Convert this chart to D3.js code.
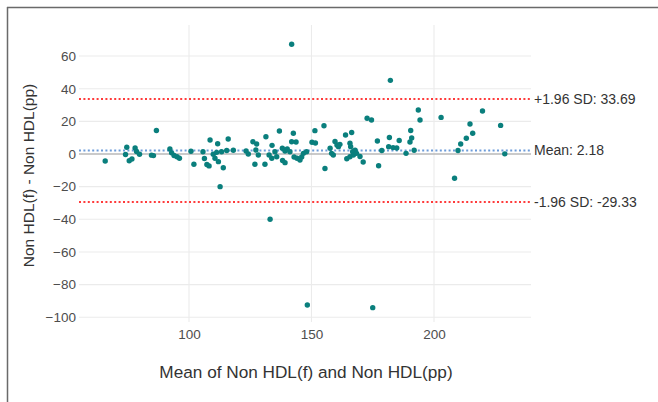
<!DOCTYPE html>
<html>
<head>
<meta charset="utf-8">
<script src="https://cdn.jsdelivr.net/npm/d3@7"></script>
<style>
  html, body { margin: 0; padding: 0; background: #fff; }
  svg { display: block; font-family: "Liberation Sans", Arial, sans-serif; }
</style>
</head>
<body>
<svg id="chart" width="658" height="402"></svg>
<script>
// ---- data ----
const meanValues = [
  65.8, 74.6, 74.1, 75.6, 76.7, 78.0, 78.6, 79.8, 86.7, 84.7,
  85.5, 92.2, 92.9, 93.9, 95.1, 96.1, 100.8, 102.0, 105.7, 106.3,
  107.3, 108.2, 108.6, 109.9, 110.6, 111.3, 111.7, 112.0, 112.7, 114.0,
  116.0, 113.3, 115.4, 118.1, 123.3, 124.2, 126.1, 127.6, 126.9, 127.3,
  128.3, 131.4, 131.0, 133.8, 133.9, 132.7, 135.1, 135.8, 136.9, 138.1,
  139.2, 138.2, 139.2, 140.1, 141.2, 142.6, 141.9, 143.7, 142.9, 144.1,
  145.3, 146.0, 141.9, 146.7, 148.0, 151.4, 155.1, 150.2, 151.6, 155.5,
  157.6, 158.2, 158.9, 159.6, 160.4, 161.0, 161.6, 163.9, 166.4, 165.7,
  166.0, 164.4, 165.7, 167.1, 166.8, 167.8, 168.4, 169.8, 171.1, 172.7,
  174.5, 176.9, 177.4, 178.7, 181.8, 181.5, 183.3, 184.8, 182.2, 185.8,
  188.6, 190.5, 190.9, 190.2, 191.9, 193.6, 194.3, 202.9, 208.4, 209.8,
  210.9, 213.2, 214.7, 215.8, 219.8, 227.2, 228.9, 133.1, 148.3, 175.0
];
const diffValues = [
  -4.3, 4.1, -0.3, -4.1, -3.1, 3.7, 1.5, -0.2, 14.4, -0.7,
  -1.0, 3.1, 0.7, -0.9, -1.7, -2.6, 1.7, -6.3, 1.4, -2.8,
  -6.4, -7.3, 8.6, -0.2, -2.6, 1.0, 6.3, -4.7, -20.0, -8.4,
  9.2, 1.4, 2.1, 2.3, 1.8, 0.0, 7.5, 6.1, -6.3, 2.4,
  -0.6, 10.6, -6.3, -2.6, 5.3, -0.6, 1.4, -1.7, 14.1, 3.5,
  1.8, -4.0, -5.3, 3.1, 1.4, 12.7, 7.5, 7.3, -1.8, -2.6,
  -3.7, -1.8, 67.2, 0.4, 1.4, 14.3, 17.3, 7.2, 6.7, -8.9,
  3.5, 0.4, -0.6, 7.7, 5.5, 4.5, 5.9, 11.6, 13.2, 6.6,
  4.5, -2.9, -1.7, -0.6, 1.4, 2.3, 0.4, -1.5, -4.9, 21.9,
  20.8, 8.0, -7.2, 2.1, 10.1, 4.5, 3.9, 3.7, 45.1, 8.3,
  0.4, 14.4, 9.8, 7.3, 2.3, 26.9, 20.8, 22.4, -14.9, 2.1,
  6.1, 9.6, 18.4, 12.7, 26.3, 17.5, 0.1, -40.0, -92.5, -94.1
];
const meanDiff = 2.18;
const upperLoA = 33.69;
const lowerLoA = -29.33;
const refLineLabels = ["+1.96 SD: 33.69", "Mean: 2.18", "-1.96 SD: -29.33"];
const xTicks = [100, 150, 200];
const yTicks = [-100, -80, -60, -40, -20, 0, 20, 40, 60];
const xTitle = "Mean of Non HDL(f) and Non HDL(pp)";
const yTitle = "Non HDL(f) - Non HDL(pp)";

// ---- drawing ----
const svg = d3.select("#chart");
const panel = { left: 79, right: 531, top: 25, bottom: 322 };

const x = d3.scaleLinear().domain([55.1, 239.6]).range([panel.left, panel.right]);
const y = d3.scaleLinear().domain([-102.9, 79]).range([panel.bottom, panel.top]);

// frame (screenshot border)
svg.append("line").attr("x1", 7).attr("x2", 658).attr("y1", 7.5).attr("y2", 7.5)
  .attr("stroke", "#6a6a6a").attr("stroke-width", 1.5);
svg.append("line").attr("x1", 7.5).attr("x2", 7.5).attr("y1", 7).attr("y2", 402)
  .attr("stroke", "#6a6a6a").attr("stroke-width", 1.5);

// gridlines
const grid = svg.append("g");
grid.selectAll(".hg").data(yTicks).join("line")
  .attr("x1", panel.left).attr("x2", panel.right)
  .attr("y1", d => y(d)).attr("y2", d => y(d))
  .attr("stroke", "#ebebeb").attr("stroke-width", 1.1);
grid.selectAll(".vg").data(xTicks).join("line")
  .attr("x1", d => x(d)).attr("x2", d => x(d))
  .attr("y1", panel.top).attr("y2", panel.bottom)
  .attr("stroke", "#ebebeb").attr("stroke-width", 1.1);

// axes (labels only, ggplot minimal style)
const yAxis = d3.axisLeft(y).tickValues(yTicks).tickSize(0).tickPadding(2)
  .tickFormat(d => d < 0 ? "\u2212" + Math.abs(d) : d);
svg.append("g").attr("transform", `translate(${panel.left - 1},0)`).call(yAxis)
  .call(g => g.select(".domain").remove())
  .call(g => g.selectAll("text").attr("fill", "#4d4d4d").attr("font-size", 13.5)
    .attr("font-family", "Liberation Sans, Arial, sans-serif"));

const xAxis = d3.axisBottom(x).tickValues(xTicks).tickSize(0).tickPadding(7);
svg.append("g").attr("transform", `translate(0,${panel.bottom})`).call(xAxis)
  .call(g => g.select(".domain").remove())
  .call(g => g.selectAll("text").attr("fill", "#4d4d4d").attr("font-size", 13.5)
    .attr("font-family", "Liberation Sans, Arial, sans-serif"));

// zero line
svg.append("line").attr("x1", panel.left).attr("x2", panel.right)
  .attr("y1", y(0)).attr("y2", y(0))
  .attr("stroke", "#a0a0a0").attr("stroke-width", 1.2);

// reference lines
const refs = [
  { v: upperLoA, color: "#ff3b3b", label: refLineLabels[0] },
  { v: meanDiff, color: "#6c9bd9", label: refLineLabels[1] },
  { v: lowerLoA, color: "#ff3b3b", label: refLineLabels[2] }
];
svg.selectAll(".ref").data(refs).join("line")
  .attr("x1", panel.left).attr("x2", panel.right)
  .attr("y1", d => y(d.v)).attr("y2", d => y(d.v))
  .attr("stroke", d => d.color).attr("stroke-width", 2)
  .attr("stroke-dasharray", "2,2.4");

// points
svg.append("g").selectAll("circle").data(meanValues.map((m, i) => [m, diffValues[i]]))
  .join("circle")
  .attr("cx", d => x(d[0])).attr("cy", d => y(d[1])).attr("r", 2.7)
  .attr("fill", "#0a7f7d");

// reference labels
svg.selectAll(".reflab").data(refs).join("text")
  .attr("x", panel.right + 3).attr("y", d => y(d.v))
  .attr("dy", "0.35em").attr("font-size", 14).attr("fill", "#333")
  .text(d => d.label);

// axis titles
svg.append("text").attr("x", (panel.left + panel.right) / 2 + 1).attr("y", 378)
  .attr("text-anchor", "middle").attr("font-size", 17.2).attr("fill", "#333")
  .text(xTitle);
svg.append("text")
  .attr("transform", `translate(34,${(panel.top + panel.bottom) / 2 + 2}) rotate(-90)`)
  .attr("text-anchor", "middle").attr("font-size", 15.5).attr("fill", "#333")
  .text(yTitle);
</script>
</body>
</html>
